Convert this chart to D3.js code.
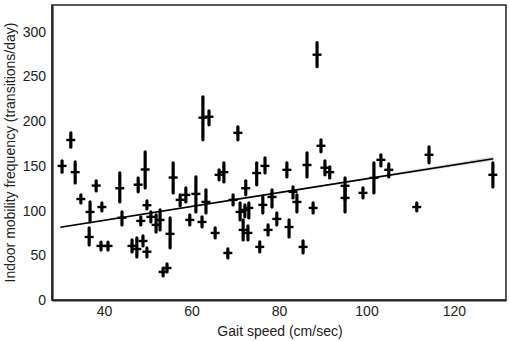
<!DOCTYPE html>
<html>
<head>
<meta charset="utf-8">
<script src="https://cdn.jsdelivr.net/npm/d3@7"></script>
<style>
  body { margin: 0; background: #fff; }
  .axis text { font-family: "Liberation Sans", Arial, sans-serif; font-size: 14px; fill: #222; }
  .title { font-family: "Liberation Sans", Arial, sans-serif; font-size: 14px; fill: #222; }
</style>
</head>
<body>
<div id="chart"></div>
<script>
// gait speed (cm/sec) per subject
var gaitSpeed = [32.4, 30.4, 33.4, 38.2, 34.7, 36.8, 39.5, 36.6, 39.3, 40.9,
    43.6, 44.1, 47.8, 49.4, 49.8, 48.4, 50.7, 51.9, 52.8, 55.8,
    55.1, 48.9, 49.8, 46.4, 47.5, 53.5, 54.4, 57.4, 58.7, 61.0,
    63.3, 59.6, 62.4, 65.4, 68.3, 70.6, 62.6, 64.0, 66.3, 67.4,
    72.4, 74.9, 76.8, 69.5, 71.1, 72.2, 73.1, 71.8, 72.9, 76.3,
    78.4, 77.5, 79.5, 82.3, 75.6, 81.8, 89.6, 86.4, 90.5, 91.6,
    95.1, 95.1, 99.2, 83.2, 84.1, 87.8, 85.5, 101.7, 103.3, 105.1,
    111.5, 114.3, 128.9, 88.7];

// mean indoor mobility frequency (transitions/day)
var mobilityMean = [179, 150, 143, 128, 113, 98.5, 104, 70.5, 60.5, 60.5,
    125, 92, 129, 146, 106, 88.5, 93, 84, 89.6, 137,
    74, 66, 54, 60.5, 57, 31.4, 35.8, 112, 117.6, 118.7,
    109.7, 89.6, 87.3, 75, 52.6, 187, 204, 205, 140, 143,
    125, 142, 150, 112, 98.5, 100.8, 103, 78.4, 75, 106.4,
    115.3, 78.4, 90.7, 81.7, 59.4, 145.6, 172.5, 151, 148, 143,
    127.7, 114.2, 119.8, 121, 109.7, 103, 59.4, 136.6, 156.8, 145.6,
    104, 162.4, 140, 274.4];

// day-to-day range, lower end
var mobilityLow = [171, 143, 131, 122, 108.6, 87.3, 99.6, 61.6, 56, 56,
    109.7, 84, 121, 125.4, 101.9, 84, 87.3, 76, 78.4, 119.8,
    58.2, 60.5, 48.2, 53.8, 48.2, 26.9, 31.4, 105.3, 109.7, 98.5,
    97.4, 84, 81.7, 69.4, 47, 179.2, 179.2, 196, 134.4, 132,
    117.6, 128.8, 142.2, 106.4, 89.6, 93, 91.8, 67.2, 67.2, 97.4,
    104, 72.8, 84, 70.5, 53.8, 137.7, 165.7, 137.7, 140, 136.6,
    112, 98.5, 114.2, 114.2, 98.5, 97.4, 52.6, 119.8, 150, 137.7,
    99.7, 153.4, 126.5, 260.9];

// day-to-day range, upper end
var mobilityHigh = [187, 155.7, 154.5, 133.3, 117.6, 109.7, 108.6, 80.6, 64.9, 64.9,
    142.2, 98.5, 136.6, 165.7, 110.9, 93, 98.5, 95.2, 100.8, 153.4,
    91.8, 71.7, 58.2, 67.2, 69.4, 35.8, 40.3, 117.6, 125.4, 137.7,
    123.2, 95.2, 93, 80.6, 57.1, 193.7, 227.3, 211.6, 145.6, 153.4,
    133.3, 153.4, 159, 117.6, 108.6, 106.4, 108.6, 89.6, 82.9, 115.3,
    123.2, 84, 97.4, 89.6, 65, 153.4, 179.2, 164.6, 155.7, 149,
    136.6, 125.4, 125.4, 126.5, 117.6, 108.6, 66.1, 153.4, 162.4, 152.3,
    108.6, 171.3, 153.4, 287.8];

// fitted regression line and its band
var fitX = [30, 80, 129];
var fitY = [81.4, 120.1, 158.1];
var fitLow = [80.6, 119.8, 155.8];
var fitHigh = [82.2, 120.4, 160.6];

var xTicks = [40, 60, 80, 100, 120];
var yTicks = [0, 50, 100, 150, 200, 250, 300];

var margin = {top: 5, right: 4, bottom: 41, left: 52};
var width = 510 - margin.left - margin.right,
    height = 341 - margin.top - margin.bottom;

var svg = d3.select("#chart").append("svg")
    .attr("width", 510)
    .attr("height", 341);

var g = svg.append("g")
    .attr("transform", "translate(" + margin.left + "," + margin.top + ")");

var x = d3.scaleLinear().domain([28.1, 131.9]).range([0, width]);
var y = d3.scaleLinear().domain([0, 330]).range([height, 0]);

// band + fit
var fitData = fitX.map(function(d, i) {
    return {x: d, y: fitY[i], lo: fitLow[i], hi: fitHigh[i]};
});

g.append("path")
    .datum(fitData)
    .attr("fill", "#d9d9d9")
    .attr("d", d3.area()
        .x(function(d) { return x(d.x); })
        .y0(function(d) { return y(d.lo); })
        .y1(function(d) { return y(d.hi); }));

g.append("path")
    .datum(fitData)
    .attr("fill", "none")
    .attr("stroke", "#000")
    .attr("stroke-width", 1.6)
    .attr("d", d3.line()
        .x(function(d) { return x(d.x); })
        .y(function(d) { return y(d.y); }));

// points
var points = gaitSpeed.map(function(d, i) {
    return {x: d, mean: mobilityMean[i], lo: mobilityLow[i], hi: mobilityHigh[i]};
});

var marks = g.selectAll(".pt")
    .data(points)
    .enter()
    .append("g")
    .attr("class", "pt");

marks.append("line")
    .attr("x1", function(d) { return x(d.x); })
    .attr("x2", function(d) { return x(d.x); })
    .attr("y1", function(d) { return y(d.lo); })
    .attr("y2", function(d) { return y(d.hi); })
    .attr("stroke", "#000")
    .attr("stroke-width", 3.2)
    .attr("stroke-linecap", "round");

marks.append("line")
    .attr("x1", function(d) { return x(d.x) - 4.5; })
    .attr("x2", function(d) { return x(d.x) + 4.5; })
    .attr("y1", function(d) { return y(d.mean); })
    .attr("y2", function(d) { return y(d.mean); })
    .attr("stroke", "#000")
    .attr("stroke-width", 2.4);

// frame
g.append("rect")
    .attr("width", width)
    .attr("height", height)
    .attr("fill", "none")
    .attr("stroke", "#222")
    .attr("stroke-width", 1.5);

// axes
var xAxis = g.append("g")
    .attr("class", "axis")
    .attr("transform", "translate(0," + height + ")")
    .call(d3.axisBottom(x).tickValues(xTicks).tickSize(0).tickPadding(6));

var yAxis = g.append("g")
    .attr("class", "axis")
    .call(d3.axisLeft(y).tickValues(yTicks).tickSize(0).tickPadding(6));

xAxis.select(".domain").attr("stroke", "#222").attr("stroke-width", 2.2);
yAxis.select(".domain").attr("stroke", "#222").attr("stroke-width", 2.2);

svg.append("text")
    .attr("class", "title")
    .attr("x", margin.left + width / 2 + 1)
    .attr("y", 336)
    .attr("text-anchor", "middle")
    .text("Gait speed (cm/sec)");

svg.append("text")
    .attr("class", "title")
    .attr("transform", "translate(15," + (margin.top + height / 2) + ") rotate(-90)")
    .attr("text-anchor", "middle")
    .text("Indoor mobility frequency (transitions/day)");
</script>
</body>
</html>
